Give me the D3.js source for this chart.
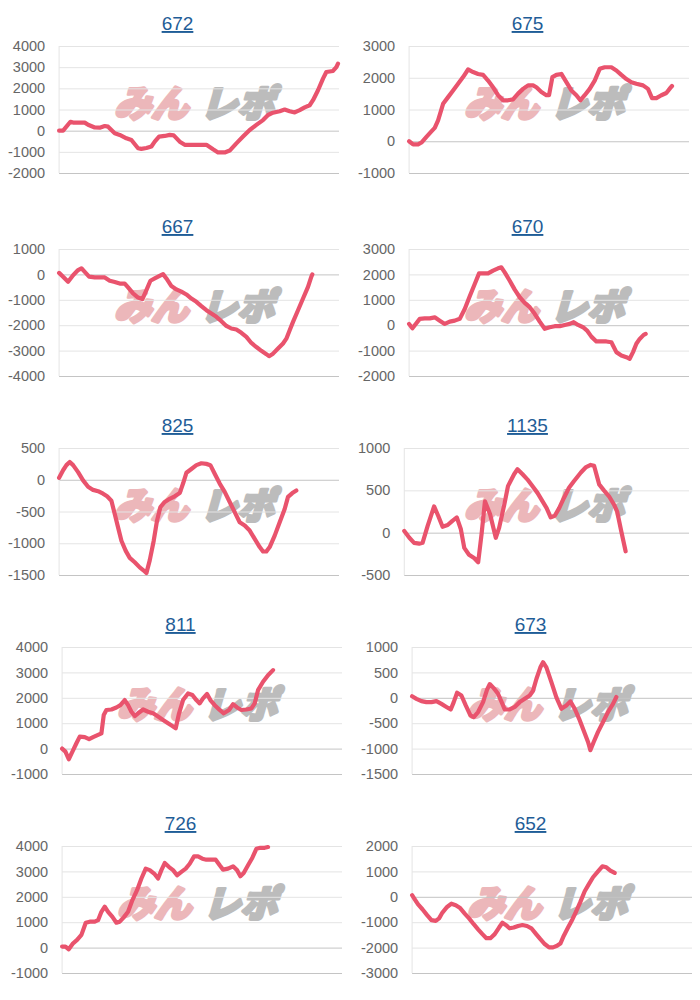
<!DOCTYPE html>
<html><head><meta charset="utf-8">
<script src="https://cdn.jsdelivr.net/npm/d3@7"></script>
<style>
body{margin:0;background:#fff;}
svg{display:block;}
</style></head>
<body>
<svg id="chart" width="700" height="1000"></svg>
<script>
// ---- data ----
const titles = ["672","675","667","670","825","1135","811","673","726","652"];

const ticks672 = [-2000,-1000,0,1000,2000,3000,4000];
const ticks675 = [-1000,0,1000,2000,3000];
const ticks667 = [-4000,-3000,-2000,-1000,0,1000];
const ticks670 = [-2000,-1000,0,1000,2000,3000];
const ticks825 = [-1500,-1000,-500,0,500];
const ticks1135 = [-500,0,500,1000];
const ticks811 = [-1000,0,1000,2000,3000,4000];
const ticks673 = [-1500,-1000,-500,0,500,1000];
const ticks726 = [-1000,0,1000,2000,3000,4000];
const ticks652 = [-3000,-2000,-1000,0,1000,2000];

// [games, diff]
const s672 = [[0,0],[120,0],[340,420],[420,380],[770,380],[870,280],[1070,150],[1220,140],[1370,220],[1470,190],[1670,-120],[1820,-200],[2020,-360],[2170,-440],[2370,-830],[2470,-860],[2620,-820],[2770,-750],[2870,-520],[3000,-280],[3170,-250],[3320,-200],[3440,-220],[3620,-520],[3770,-670],[4420,-670],[4620,-880],[4770,-1030],[4970,-1030],[5120,-940],[5320,-600],[5520,-280],[5720,30],[5920,270],[6120,500],[6270,740],[6420,850],[6620,920],[6770,1000],[6920,920],[7070,860],[7220,970],[7370,1100],[7520,1200],[7620,1440],[7770,1910],[7920,2460],[8020,2770],[8220,2820],[8320,3000],[8370,3170]];
const s675 = [[0,0],[120,-100],[270,-100],[370,-40],[520,140],[670,310],[770,420],[870,660],[1020,1180],[1170,1390],[1320,1600],[1470,1810],[1620,2020],[1770,2260],[1920,2180],[2070,2120],[2220,2090],[2370,1910],[2520,1700],[2670,1450],[2820,1290],[2970,1290],[3120,1320],[3270,1500],[3420,1650],[3570,1760],[3720,1760],[3820,1700],[3970,1550],[4120,1450],[4200,1450],[4300,2020],[4420,2090],[4570,2120],[4720,1860],[4870,1600],[5020,1450],[5140,1290],[5270,1450],[5420,1650],[5570,1910],[5720,2280],[5870,2330],[6070,2330],[6220,2230],[6370,2090],[6520,1960],[6670,1860],[6820,1810],[7020,1760],[7170,1650],[7290,1360],[7420,1360],[7570,1450],[7720,1520],[7840,1680],[7890,1740]];
const s667 = [[0,60],[120,-90],[270,-290],[420,-30],[570,170],[670,240],[770,100],[900,-90],[1070,-120],[1370,-120],[1520,-250],[1670,-300],[1820,-360],[1970,-360],[2070,-510],[2220,-750],[2370,-910],[2500,-970],[2620,-620],[2740,-250],[2870,-160],[3000,-70],[3120,10],[3220,-160],[3370,-460],[3520,-590],[3670,-680],[3820,-790],[3970,-950],[4120,-1080],[4270,-1250],[4420,-1410],[4570,-1540],[4720,-1670],[4870,-1840],[5020,-2030],[5170,-2130],[5320,-2170],[5470,-2300],[5620,-2460],[5770,-2700],[5920,-2860],[6070,-3010],[6220,-3140],[6300,-3220],[6420,-3120],[6570,-2920],[6720,-2720],[6820,-2530],[6920,-2200],[7020,-1870],[7170,-1410],[7320,-950],[7470,-490],[7570,-90],[7600,0]];
const s670 = [[0,50],[100,-120],[200,50],[320,250],[470,270],[620,270],[770,310],[920,180],[1070,50],[1220,140],[1370,180],[1520,250],[1670,640],[1820,1140],[1970,1620],[2100,2040],[2370,2040],[2520,2150],[2670,2240],[2770,2280],[2870,2080],[3020,1750],[3170,1400],[3320,1100],[3470,880],[3620,710],[3770,450],[3920,140],[4070,-140],[4220,-80],[4370,-40],[4520,-40],[4670,10],[4820,50],[4940,120],[5070,10],[5220,-80],[5340,-210],[5470,-450],[5620,-640],[5920,-640],[6070,-670],[6220,-1060],[6370,-1190],[6520,-1260],[6620,-1320],[6720,-1060],[6820,-730],[6920,-540],[7040,-380],[7100,-340]];
const s825 = [[0,30],[120,150],[220,230],[320,280],[420,230],[570,120],[720,-10],[870,-110],[1020,-160],[1170,-180],[1320,-220],[1440,-260],[1570,-330],[1670,-540],[1770,-750],[1870,-960],[2000,-1120],[2120,-1230],[2270,-1300],[2420,-1380],[2540,-1430],[2620,-1470],[2720,-1270],[2840,-960],[2940,-640],[3040,-430],[3170,-350],[3320,-300],[3470,-260],[3620,-210],[3720,-60],[3820,110],[3970,170],[4120,230],[4270,260],[4420,250],[4540,230],[4670,95],[4820,-60],[4970,-190],[5120,-350],[5270,-510],[5420,-670],[5570,-720],[5720,-800],[5870,-930],[6020,-1060],[6120,-1130],[6220,-1130],[6320,-1060],[6470,-880],[6620,-670],[6770,-460],[6870,-270],[7000,-210],[7120,-170]];
const s1135 = [[0,20],[150,-60],[290,-120],[440,-130],[540,-120],[690,80],[880,310],[1000,200],[1130,70],[1280,90],[1420,140],[1550,180],[1670,40],[1770,-180],[1910,-260],[2060,-300],[2180,-350],[2280,-20],[2380,370],[2530,220],[2700,-60],[2800,60],[2950,330],[3060,550],[3240,690],[3340,750],[3490,690],[3630,630],[3780,550],[3930,470],[4080,370],[4200,290],[4320,180],[4440,200],[4570,290],[4710,410],[4860,530],[5010,610],[5210,710],[5350,770],[5500,800],[5600,790],[5750,570],[5890,500],[6040,430],[6190,330],[6280,250],[6400,20],[6530,-220]];
const s811 = [[0,0],[100,-120],[200,-420],[310,-120],[430,210],[530,470],[680,450],[810,370],[930,450],[1080,540],[1180,600],[1250,1320],[1330,1520],[1480,1540],[1630,1620],[1750,1710],[1880,1910],[1980,1710],[2080,1450],[2180,1280],[2280,1390],[2430,1540],[2580,1450],[2730,1390],[2880,1260],[3030,1130],[3180,1000],[3310,890],[3410,800],[3510,1390],[3630,1910],[3780,2170],[3910,2110],[4030,1910],[4130,1780],[4230,1980],[4350,2150],[4450,1910],[4580,1710],[4730,1520],[4850,1390],[5010,1520],[5130,1750],[5250,1620],[5380,1520],[5530,1540],[5680,1580],[5780,1780],[5880,2300],[6030,2630],[6180,2890],[6330,3090]];
const s673 = [[0,30],[130,-20],[280,-65],[430,-85],[580,-85],[730,-65],[880,-120],[1030,-180],[1160,-230],[1250,-85],[1350,100],[1480,45],[1610,-150],[1750,-345],[1850,-380],[1980,-280],[2130,-85],[2250,160],[2330,270],[2450,190],[2580,80],[2710,-120],[2780,-230],[2930,-230],[3080,-180],[3230,-85],[3380,-20],[3530,45],[3630,140],[3730,370],[3850,600],[3930,700],[4030,600],[4180,310],[4330,10],[4480,-215],[4630,-150],[4750,-70],[4880,-215],[5030,-440],[5180,-700],[5280,-870],[5350,-1030],[5450,-870],[5580,-670],[5730,-475],[5880,-280],[6030,-120],[6130,15]];
const s726 = [[0,40],[100,40],[200,-65],[330,170],[450,300],[580,500],[710,980],[830,1020],[980,1020],[1080,1080],[1180,1410],[1280,1610],[1380,1410],[1510,1210],[1630,980],[1730,1020],[1850,1190],[1980,1410],[2110,1870],[2250,2260],[2380,2720],[2510,3110],[2630,3050],[2780,2890],[2880,2720],[2980,3050],[3080,3330],[3210,3170],[3330,3050],[3450,2850],[3580,2980],[3710,3110],[3830,3300],[3960,3590],[4080,3590],[4210,3500],[4330,3460],[4610,3460],[4730,3240],[4830,3070],[4980,3110],[5130,3200],[5250,3050],[5350,2810],[5450,2940],[5580,3240],[5710,3540],[5830,3890],[5950,3930],[6080,3930],[6180,3960]];
const s652 = [[0,65],[80,-100],[180,-300],[310,-490],[450,-720],[580,-920],[710,-950],[810,-850],[910,-620],[1050,-400],[1180,-270],[1310,-330],[1430,-430],[1580,-660],[1710,-850],[1850,-1080],[1980,-1280],[2110,-1470],[2230,-1630],[2350,-1630],[2480,-1470],[2610,-1210],[2710,-1020],[2810,-1110],[2930,-1240],[3050,-1210],[3180,-1150],[3310,-1110],[3450,-1150],[3580,-1240],[3710,-1450],[3850,-1670],[3980,-1860],[4110,-1990],[4230,-1990],[4350,-1930],[4450,-1840],[4550,-1540],[4680,-1210],[4810,-890],[4930,-560],[5050,-200],[5180,220],[5310,510],[5430,770],[5580,1000],[5710,1200],[5830,1160],[5950,1030],[6080,940]];

const gamesMax = 8400;
const seriesList = [s672,s675,s667,s670,s825,s1135,s811,s673,s726,s652];
const tickList = [ticks672,ticks675,ticks667,ticks670,ticks825,ticks1135,ticks811,ticks673,ticks726,ticks652];

// ---- layout ----
const rowTop = [46, 249, 448, 647, 846];
const rowShift = [0, 0, 0, 3, 3];
const plotH = 127;
const colW = 350;
const lineColor = "#e9536d";
const tickFont = "14.5px 'Liberation Sans', Arial, sans-serif";

const svg = d3.select("#chart");

const meas = svg.append("text").style("font", tickFont).attr("x",-1000).attr("y",-1000);
function textW(s){ meas.text(s); return meas.node().getComputedTextLength(); }

titles.forEach((t, i) => {
  const r = Math.floor(i/2), c = i%2;
  const x0 = c*colW + rowShift[r];
  const top = rowTop[r];
  const ticks = tickList[i];
  const maxW = d3.max(ticks, v => textW(String(v)));
  const left = x0 + 8 + maxW + 14;
  const right = x0 + 339;
  const g = svg.append("g");

  const y = d3.scaleLinear().domain(d3.extent(ticks)).range([top + plotH, top]);
  const x = d3.scaleLinear().domain([0, gamesMax]).range([left, right]);

  // title
  g.append("text")
    .attr("x", x0 + 177.5).attr("y", top - 16)
    .attr("text-anchor", "middle")
    .style("font", "19px 'Liberation Sans', Arial, sans-serif")
    .style("fill", "#1f5d97")
    .style("text-decoration", "underline")
    .text(t);

  // watermark
  const wm = g.append("g").attr("transform", `translate(${x0 + 114},${top + 71})`);
  wm.append("text").attr("x", 0).attr("y", 0)
    .attr("transform", "skewX(-16)")
    .style("font", "900 37px 'Noto Sans CJK JP', sans-serif")
    .style("fill", "#ecb7ba").style("stroke", "#ecb7ba")
    .style("stroke-width", 3.2).style("stroke-linejoin", "round")
    .text("みん");
  wm.append("text").attr("x", 86).attr("y", 0)
    .attr("transform", "skewX(-16)")
    .style("font", "900 37px 'Noto Sans CJK JP', sans-serif")
    .style("fill", "#bcbcbc").style("stroke", "#bcbcbc")
    .style("stroke-width", 3.2).style("stroke-linejoin", "round")
    .text("レポ");

  // y axis with gridlines
  const ax = g.append("g")
    .attr("transform", `translate(${left},0)`)
    .call(d3.axisLeft(y).tickValues(ticks).tickSize(-(right-left)).tickPadding(14).tickFormat(d => String(d)));
  ax.select(".domain").remove();
  ax.selectAll(".tick line")
    .attr("stroke", d => (d === 0 || d === ticks[0]) ? "#c4c4c4" : "#e4e4e4")
    .attr("stroke-width", 1);
  ax.selectAll(".tick text")
    .style("font", tickFont).style("fill", "#666");

  g.append("line")
    .attr("x1", left).attr("x2", left)
    .attr("y1", top).attr("y2", top + plotH)
    .attr("stroke", "#e4e4e4");

  const line = d3.line().x(d => x(d[0])).y(d => y(d[1]));
  g.append("path")
    .datum(seriesList[i])
    .attr("d", line)
    .attr("fill", "none")
    .attr("stroke", lineColor)
    .attr("stroke-width", 4.2)
    .attr("stroke-linejoin", "round")
    .attr("stroke-linecap", "round");
});
meas.remove();
</script>
</body></html>
